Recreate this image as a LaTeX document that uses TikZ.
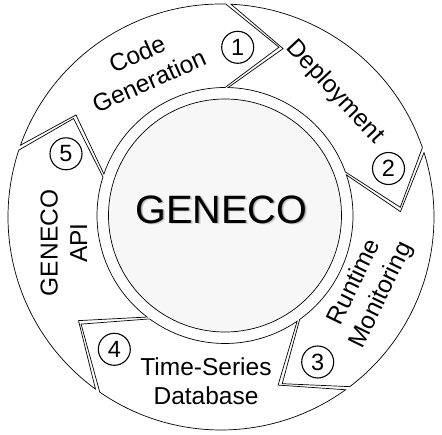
\documentclass[tikz,border=0pt]{standalone}
\usepackage{fontspec}
\setmainfont{Liberation Sans}
\usetikzlibrary{calc}
\def\Ro{213pt}
\def\Ri{128pt}
\def\Rt{178pt}
\def\gp{1.4}
\tikzset{
  segline/.style={draw=black, line width=0.7pt, fill=white, line join=miter},
  numcirc/.style={draw=black, circle, line width=1.1pt, minimum size=32pt, inner sep=0pt, fill=white, font=\fontsize{23.5}{26}\selectfont},
  lbl/.style={font=\fontsize{24.5}{29.5}\selectfont, align=center, inner sep=0pt},
  bigtxt/.style={anchor=base, inner sep=0pt, font=\fontsize{39.5}{42}\selectfont},
}
\newcommand{\chevseg}[6]{%
  \draw[segline] ($(O1)+(#1-\gp:\Ro)$) arc[start angle={#1-\gp}, end angle={#4}, radius=\Ro]
    -- ($(O)+(#5:\Rt)$) -- ($(O2)+(#6:\Ri)$)
    arc[start angle={#6}, end angle={#3-\gp}, radius=\Ri]
    -- ($(O)+(#2-\gp:\Rt)$) -- cycle;}
\begin{document}
\begin{tikzpicture}[x=1pt,y=1pt]
\useasboundingbox (0,0) rectangle (442,434);
\fill[white] (0,0) rectangle (442,434);
\coordinate (O1) at (221,217);
\coordinate (O2) at (225,218.5);
\coordinate (O) at (222.5,218);
% segments: prev boundary (outer, tip, inner), end boundary (outer, tip, inner)
\chevseg{161.7}{146.8}{162.5}{88.7}{71.5}{90}
\chevseg{88.7}{71.5}{90}{19}{2.8}{19.9}
\chevseg{19}{2.8}{19.9}{-52.8}{-70.4}{-54.3}
\chevseg{-52.8}{-70.4}{-54.3}{-124.7}{-142.6}{-126.1}
\chevseg{-124.7}{-142.6}{-126.1}{-198.3}{-213.2}{-197.5}
% core
\node[draw=black, line width=0.7pt, circle, fill=black!3, minimum size=233pt, inner sep=0pt] (core) at (O2) {};
\node[bigtxt, text=black!18] (genshadow2) at (223.3,209.2) {GENECO};
\node[bigtxt, text=black!40] (genshadow) at (222.4,210.0) {GENECO};
\node[bigtxt] (gen) at (221.5,210.7) {GENECO};
% labels
\node[lbl, rotate=24] (tcode) at (143,366.5) {Code\\Generation};
\node[lbl, rotate=-47] (tdep) at (335,342) {Deployment};
\node[lbl, rotate=64] (trun) at (368.3,145.2) {Runtime\\Monitoring};
\node[lbl] (ttsd) at (206,52.7) {Time-Series\\Database};
\node[lbl, rotate=90] (tapi) at (63.7,191) {GENECO\\API};
% numbers
\node[numcirc] (n1) at (237.7,386.7) {1};
\node[numcirc] (n2) at (388.5,265.5) {2};
\node[numcirc] (n3) at (317.7,72) {3};
\node[numcirc] (n4) at (114.3,84.7) {4};
\node[numcirc] (n5) at (66,280.2) {5};
\end{tikzpicture}
\end{document}
